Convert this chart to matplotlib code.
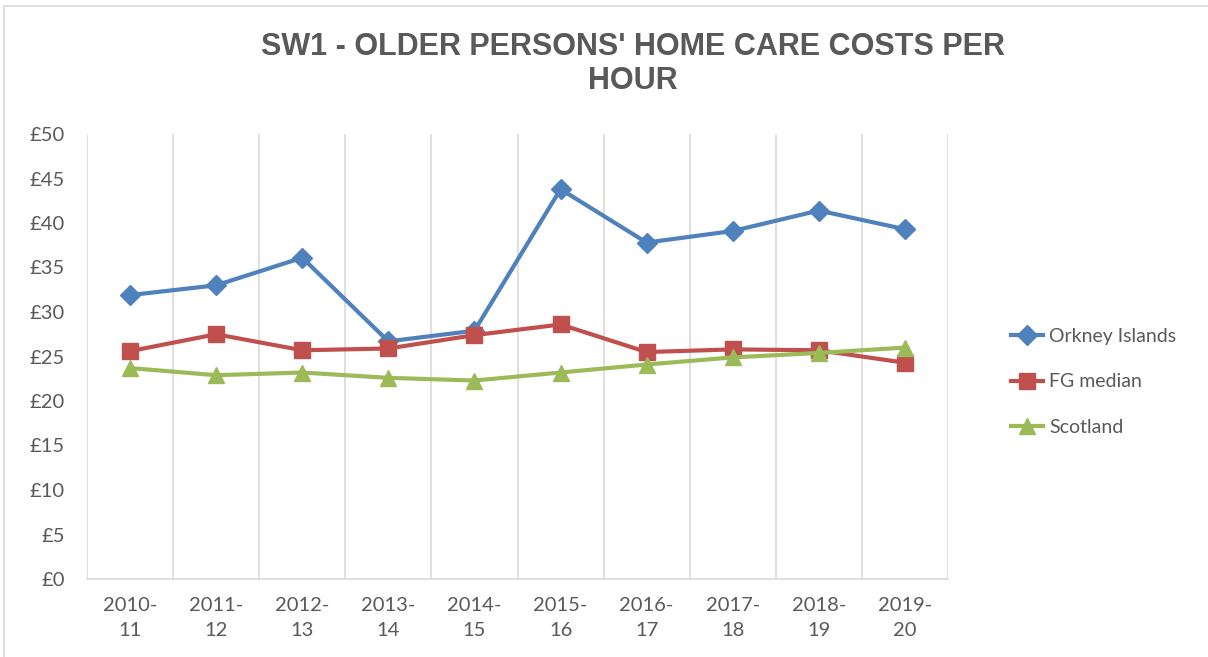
'''SW1 - coste por hora de atención domiciliaria'''

import matplotlib
matplotlib.use('Agg')
import matplotlib.pyplot as plt
from matplotlib.patches import Rectangle
import numpy as np

years = ['2010-\n11', '2011-\n12', '2012-\n13', '2013-\n14', '2014-\n15',
         '2015-\n16', '2016-\n17', '2017-\n18', '2018-\n19', '2019-\n20']
orkney = [31.9, 33.0, 36.1, 26.7, 27.9, 43.8, 37.8, 39.1, 41.4, 39.3]
fg_median = [25.6, 27.5, 25.7, 25.9, 27.4, 28.6, 25.5, 25.8, 25.7, 24.3]
scotland = [23.7, 22.9, 23.2, 22.6, 22.3, 23.2, 24.1, 24.9, 25.4, 26.0]
series_names = ['Orkney Islands', 'FG median', 'Scotland']

GREY = '#595959'
GRID = '#D9D9D9'

fig = plt.figure(figsize=(12.08, 6.57), dpi=100)
ax = fig.add_axes([87 / 1208, 1 - 579 / 657, 861 / 1208, 445 / 657])

# Borde del gráfico
fig.patches.append(Rectangle((4 / 1208, -0.1), 1.2, 1 - 6 / 657 + 0.1,
                             transform=fig.transFigure, fill=False,
                             edgecolor=GRID, linewidth=1.2))

x_axis = np.arange(len(years))
ax.plot(x_axis, orkney, color='#4F81BD', lw=3, marker='D', ms=10,
        label=series_names[0])
ax.plot(x_axis, fg_median, color='#C0504D', lw=3, marker='s', ms=11,
        label=series_names[1])
ax.plot(x_axis, scotland, color='#9BBB59', lw=3, marker='^', ms=12,
        label=series_names[2])

ax.set_xlim(-0.5, len(years) - 0.5)
ax.set_ylim(0, 50)
ax.set_yticks(range(0, 51, 5))
ax.set_yticklabels(['£%d' % v for v in range(0, 51, 5)])
ax.set_xticks(x_axis)
ax.set_xticklabels(years, linespacing=1.6)
ax.set_xticks(np.arange(-0.5, len(years), 1), minor=True)
ax.grid(axis='x', which='minor', color=GRID, lw=1.2)
ax.tick_params(axis='both', which='both', length=0, colors=GREY,
               labelsize=14.5)
ax.tick_params(axis='x', pad=13)
ax.tick_params(axis='y', pad=16)
for lab in ax.get_xticklabels() + ax.get_yticklabels():
    lab.set_family('Lato')
for side in ['top', 'right', 'left']:
    ax.spines[side].set_visible(False)
ax.spines['bottom'].set_color(GRID)
ax.spines['bottom'].set_linewidth(1.2)

# Título
fig.text(0.524, 1 - 64 / 657, "SW1 - OLDER PERSONS' HOME CARE COSTS PER\nHOUR",
         ha='center', va='center', fontsize=22, fontweight='bold',
         family='Liberation Sans', color=GREY, linespacing=1.15)

leg = ax.legend(loc='center left', bbox_to_anchor=(1.053, 0.443), frameon=False,
                prop={'family': 'Lato', 'size': 14}, labelspacing=1.46,
                handlelength=1.65, handletextpad=0.3)
for t in leg.get_texts():
    t.set_color(GREY)

plt.savefig('out.png', dpi=100)
